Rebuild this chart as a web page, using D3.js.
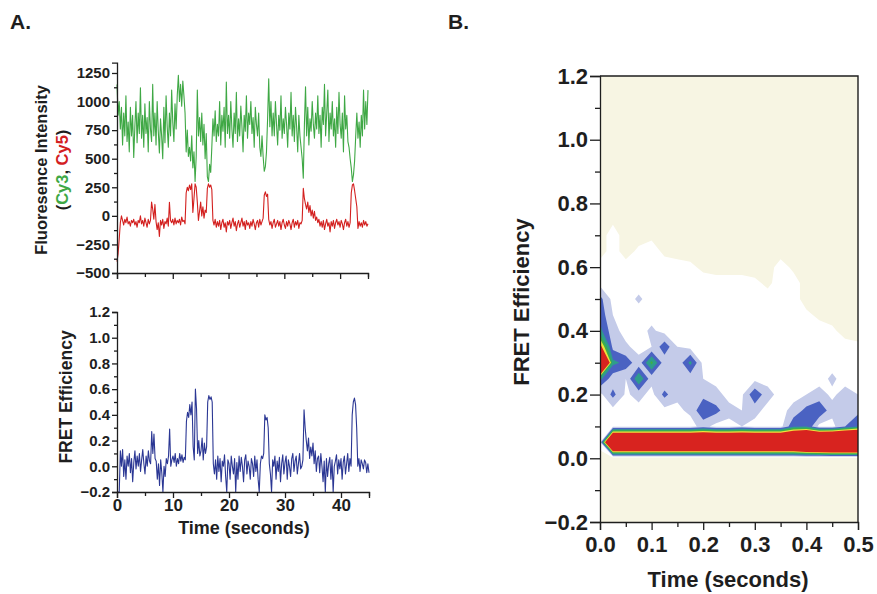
<!DOCTYPE html>
<html><head><meta charset="utf-8">
<script src="https://cdn.jsdelivr.net/npm/d3@7"></script>
<style>body{margin:0;background:#fff}</style>
</head><body><svg id="c" width="877" height="594"></svg>
<script>
// ---------- DATA ----------
const frameStep = 0.2; // seconds between samples
const cy3 = [
1150,880,1000,760,950, 620,900,700,1050,650, 820,560,950,700,880, 510,780,1000,640,900,
720,1120,680,880,600, 980,720,860,560,1000, 760,650,1150,700,900, 620,1000,740,550,850,
700,500,950,640,1050, 780,600,900,700,1100, 820,650,980,760,1050, 1230,1000,1150,960,1180,
1050,900,560,750,520, 600,480,700,420,560, 300,520,1100,700,860, 650,900,620,800,500,
720,340,300,450,380, 600,850,700,920,650, 800,700,1000,620,880, 740,950,600,1170,720,
880,680,1000,760,600, 900,720,1080,650,850, 700,960,780,560,880, 740,1050,680,900,800,
1000,720,860,600,950, 800,700,900,600,520, 700,520,390,430,560, 850,1200,780,1000,700,
900,700,1000,800,620, 880,750,1050,680,850, 720,950,800,600,900, 760,1080,700,880,650,
950,780,560,880,700, 600,500,330,800,1130, 700,950,620,850,740, 1000,800,680,900,760,
1050,720,880,600,950, 800,1150,700,900,1100, 650,900,760,1000,700, 850,600,950,720,1080,
800,680,900,560,1050, 760,880,650,600,500, 420,300,360,480,700, 900,680,820,600,880,
700,1100,760,1000,800, 1100];
const cy5 = [
-400,-330,-200,-60,0, -40,-80,-30,-60,-10, -70,-50,-90,-40,-60, -30,-80,-50,-100,-40,
-60,0,-70,-40,-90, -20,-60,-100,-30,-70, -40,120,60,-30,100, -50,-120,-60,-180,-40,
-80,-30,-110,-50,-70, -20,-90,118,-40,-60, -30,-80,-20,-70,-40, -60,-30,-80,-10,-50,
-40,-70,200,250,220, 270,230,280,30,150, 280,250,120,-40,40, 120,0,80,-20,50,
30,240,280,250,270, 230,-40,-80,-30,-100, -50,-90,-40,-120,-60, -30,-100,-60,-140,-50,
-80,-40,-110,-60,-20, -90,-50,-130,-70,-40, -100,-60,-20,-90,-50, -120,-40,-80,-60,-110,
-50,-90,-30,-70,-120, -60,-40,-100,-30,-80, -50,-20,180,210,170, 190,-30,-80,-50,-110,
-60,-30,-100,-70,-40, -90,-50,-120,-60,-30, -80,-110,-50,-90,-40, -70,-120,-60,-30,-100,
-50,-80,-40,-110,-60, -70,-40,240,150,100, 60,120,30,90,0, 50,-20,40,-40,-10,
-60,-30,-90,-50,-100, -40,-120,-70,-30,-90, -60,-140,-50,-90,-40, -110,-60,-30,-80,-50,
-100,-40,-70,-120,-60, -30,-90,-50,-100,-60, 200,270,280,220,150, 80,-110,-50,-90,-60,
-100,-40,-80,-50,-90, -70];
const fret = [
-0.2,-0.2,-0.2,0.12,0.0, 0.13,-0.08,0.05,-0.1,0.08, 0.0,0.1,-0.05,0.06,-0.12, 0.03,0.12,-0.02,0.08,0.0,
0.1,-0.04,0.05,0.13,0.02, -0.06,0.08,0.0,0.12,0.04, 0.02,0.27,0.1,0.25,0.06, 0.04,-0.1,0.02,-0.15,0.05,
-0.05,-0.2,0.0,-0.08,0.06, 0.02,0.08,0.29,0.0,0.05, 0.08,0.03,0.1,0.0,0.06, 0.02,0.1,0.04,0.09,0.03,
0.07,0.05,0.35,0.42,0.38, 0.48,0.4,0.5,0.15,0.05, 0.6,0.45,0.1,0.2,0.08, 0.12,0.22,0.05,0.18,0.1,
0.15,0.5,0.55,0.52,0.54, 0.5,0.02,-0.06,0.05,-0.1, 0.08,-0.04,0.06,-0.12,0.04, 0.0,0.09,-0.08,-0.2,0.05,
0.02,-0.1,0.08,0.0,-0.06, 0.06,-0.2,0.03,-0.1,0.08, -0.04,0.07,0.0,-0.12,0.05, 0.09,-0.06,0.04,0.0,-0.1,
0.06,0.02,-0.08,0.08,-0.04, 0.05,-0.1,-0.2,0.02,0.08, 0.06,0.1,0.4,0.36,0.38, 0.3,0.02,-0.06,-0.2,0.05,
0.0,0.08,-0.1,0.04,-0.04, 0.07,-0.12,0.02,0.09,-0.06, 0.03,0.08,-0.1,0.05,0.0, -0.08,0.06,0.1,-0.04,0.04,
0.08,-0.06,0.02,0.1,-0.02, 0.0,0.05,0.44,0.3,0.2, 0.12,0.22,0.06,0.15,0.08, 0.18,0.02,0.12,-0.04,0.06,
0.08,-0.05,0.1,0.0,-0.12, 0.04,-0.2,0.06,-0.08,0.02, 0.07,-0.1,0.05,-0.2,0.0, 0.04,0.09,-0.06,0.05,-0.02,
0.06,-0.1,0.03,0.08,-0.06, 0.02,0.1,-0.04,0.06,0.0, 0.4,0.5,0.53,0.48,0.3, 0.0,0.06,-0.04,0.05,0.02,
-0.02,0.05,0.03,-0.05,0.02, -0.05];

const intensityTicks = [-500,-250,0,250,500,750,1000,1250];
const intensityMinor = [-375,-125,125,375,625,875,1125];
const fretTicks = [-0.2,0.0,0.2,0.4,0.6,0.8,1.0,1.2];
const fretMinor = [-0.1,0.1,0.3,0.5,0.7,0.9,1.1];
const timeTicks = [0,10,20,30,40];
const timeMinor = [5,15,25,35,45];
const dwellTicks = [0,0.1,0.2,0.3,0.4,0.5];
const dwellMinor = [0.05,0.15,0.25,0.35,0.45];

// contour grid: columns = dwell time, rows = FRET (top to bottom)
const dwellTimes = [0,0.025,0.05,0.075,0.1,0.125,0.15,0.175,0.2,0.225,0.25,0.275,0.3,0.325,0.35,0.375,0.4,0.425,0.45,0.475,0.5];
const fretBins = [1.2,1.15,1.1,1.05,1.0,0.95,0.9,0.85,0.8,0.75,0.7,0.65,0.6,0.55,0.5,0.45,0.4,0.35,0.3,0.25,0.2,0.15,0.1,0.05,0.0,-0.05,-0.1,-0.15,-0.2];
const density = [
[0,0,0,0,0,0,0,0,0,0,0,0,0,0,0,0,0,0,0,0,0],
[0,0,0,0,0,0,0,0,0,0,0,0,0,0,0,0,0,0,0,0,0],
[0,0,0,0,0,0,0,0,0,0,0,0,0,0,0,0,0,0,0,0,0],
[0,0,0,0,0,0,0,0,0,0,0,0,0,0,0,0,0,0,0,0,0],
[0,0,0,0,0,0,0,0,0,0,0,0,0,0,0,0,0,0,0,0,0],
[0,0,0,0,0,0,0,0,0,0,0,0,0,0,0,0,0,0,0,0,0],
[0,0,0,0,0,0,0,0,0,0,0,0,0,0,0,0,0,0,0,0,0],
[0,0,0,0,0,0,0,0,0,0,0,0,0,0,0,0,0,0,0,0,0],
[0,0,0,0,0,0,0,0,0,0,0,0,0,0,0,0,0,0,0,0,0],
[0,1,0,0,0,0,0,0,0,0,0,0,0,0,0,0,0,0,0,0,0],
[0,4,0,0,1,0,0,0,0,0,0,0,0,0,0,0,0,0,0,0,0],
[0,4,0,3,4,1,0,0,0,0,0,0,0,0,0,0,0,0,0,0,0],
[4,4,4,4,4,4,4,3,1,0,0,0,0,0,4,1,0,0,0,0,0],
[4,4,4,4,4,4,4,4,4,4,4,4,3,1,4,4,0,0,0,0,0],
[9,4,4,5.4,4,4,4,4,4,4,4,4,4,4,4,4,0,0,0,0,0],
[10,5,4,4,4,4,4,4,4,4,4,4,4,4,4,4,3,1,0,0,0],
[12,6,4,4,5.5,4,4,4,4,4,4,4,4,4,4,4,4,4,3,0,0],
[22,7,5.5,4,5,10,5,4,4,4,4,4,4,4,4,4,4,4,4,4,3],
[45,12,10,6,15,6,5.5,12,4,4,4,4,4,4,4,4,4,4,4,4,4],
[12,6,5,14,6,5,5.5,6,5,4,4,4,4,4,4,4,4,4,5.5,4,4],
[4,9,4.5,6,4,9,5.5,6,7,6,4,4.5,10.5,6,4,4,5,6,4.5,6,5],
[4,4,4,4,4,4,4.5,5.5,10.8,9,6,5,6,4,4,6,9,10.8,6,7,7],
[4,4,4,4,4,4,4,4,6,4,4,5,4,4,4,10.5,11,4,4,8,11],
[4,45,45,45,45,45,45,45,45,45,45,45,45,45,45,45,50,52,54,55,55],
[0,0,0,0,0,0,0,0,0,0,0,0,0,0,0,0,0,0,0,0,0],
[0,0,0,0,0,0,0,0,0,0,0,0,0,0,0,0,0,0,0,0,0],
[0,0,0,0,0,0,0,0,0,0,0,0,0,0,0,0,0,0,0,0,0],
[0,0,0,0,0,0,0,0,0,0,0,0,0,0,0,0,0,0,0,0,0],
[0,0,0,0,0,0,0,0,0,0,0,0,0,0,0,0,0,0,0,0,0]];
const contourLevels = [2,5,8,11,14,17,20];
const contourColors = ["#ffffff","#c4cbe9","#4a62c2","#2f9d8b","#3dae4b","#efe23c","#d8231f"];
const contourBackground = "#f7f5e3";

// ---------- DRAW ----------
const FONT = '"Liberation Sans", Arial, Helvetica, sans-serif';
const INK = "#1e1e1e";
const svg = d3.select("#c");

function styleAxis(g, fs) {
  g.selectAll("path.domain").attr("stroke", INK).attr("stroke-width", 1.3);
  g.selectAll(".tick line").attr("stroke", INK).attr("stroke-width", 1.3);
  g.selectAll(".tick text").attr("font-family", FONT).attr("font-size", fs)
    .attr("font-weight", "bold").attr("fill", INK);
}
function label(x, y, txt, fs, opts = {}) {
  const t = svg.append("text").attr("font-family", FONT).attr("font-size", fs)
    .attr("font-weight", "bold").attr("fill", INK)
    .attr("text-anchor", opts.anchor || "middle");
  if (opts.rotate) {
    t.attr("transform", `translate(${x},${y}) rotate(-90)`).attr("dy", "0.35em");
  } else {
    t.attr("x", x).attr("y", y);
  }
  t.text(txt);
  return t;
}

// Panel letters
label(10, 29, "A.", 21, {anchor: "start"});
label(448, 29, "B.", 21, {anchor: "start"});

// ---- Panel A top: intensities ----
const xA = d3.scaleLinear().domain([0, 45]).range([117, 368]);
const yI = d3.scaleLinear().domain([-500, 1340]).range([273, 62.7]);
const times = cy3.map((_, i) => i * frameStep);

const lineI = d3.line().x((d, i) => xA(times[i])).y(d => yI(d));
svg.append("path").datum(cy3).attr("d", lineI).attr("fill", "none")
  .attr("stroke", "#3fa845").attr("stroke-width", 1.1).attr("stroke-linejoin", "round");
svg.append("path").datum(cy5).attr("d", lineI).attr("fill", "none")
  .attr("stroke", "#d3201f").attr("stroke-width", 1.1).attr("stroke-linejoin", "round");

let g = svg.append("g").attr("transform", "translate(117,0)")
  .call(d3.axisLeft(yI).tickValues(intensityTicks).tickSize(5).tickPadding(2).tickFormat(d3.format("d")));
styleAxis(g, 15);
g = svg.append("g").attr("transform", "translate(117,0)")
  .call(d3.axisLeft(yI).tickValues(intensityMinor).tickSize(3).tickFormat(""));
styleAxis(g, 15); g.select("path.domain").remove();
g = svg.append("g").attr("transform", "translate(0,273)")
  .call(d3.axisBottom(xA).tickValues(timeTicks).tickSize(6).tickFormat(""));
styleAxis(g, 15);
g = svg.append("g").attr("transform", "translate(0,273)")
  .call(d3.axisBottom(xA).tickValues(timeMinor).tickSize(4).tickFormat(""));
styleAxis(g, 15); g.select("path.domain").remove();

label(41, 170, "Fluoresence Intensity", 16.5, {rotate: true});
const cyLab = label(62, 170, "", 16.5, {rotate: true});
cyLab.append("tspan").text("(");
cyLab.append("tspan").attr("fill", "#3fa845").text("Cy3");
cyLab.append("tspan").text(", ");
cyLab.append("tspan").attr("fill", "#d3201f").text("Cy5");
cyLab.append("tspan").text(")");

// ---- Panel A bottom: FRET trace ----
const xB = d3.scaleLinear().domain([0, 45]).range([117, 369]);
const yF = d3.scaleLinear().domain([-0.2, 1.2]).range([492, 312]);
svg.append("path").datum(fret)
  .attr("d", d3.line().x((d, i) => xB(times[i])).y(d => yF(d)))
  .attr("fill", "none").attr("stroke", "#2b3794").attr("stroke-width", 1.1).attr("stroke-linejoin", "round");

g = svg.append("g").attr("transform", "translate(117,0)")
  .call(d3.axisLeft(yF).tickValues(fretTicks).tickSize(5).tickPadding(2).tickFormat(d3.format(".1f")));
styleAxis(g, 15);
g = svg.append("g").attr("transform", "translate(117,0)")
  .call(d3.axisLeft(yF).tickValues(fretMinor).tickSize(3).tickFormat(""));
styleAxis(g, 15); g.select("path.domain").remove();
g = svg.append("g").attr("transform", "translate(0,492)")
  .call(d3.axisBottom(xB).tickValues(timeTicks).tickSize(6).tickPadding(1).tickFormat(d3.format("d")));
styleAxis(g, 17);
g = svg.append("g").attr("transform", "translate(0,492)")
  .call(d3.axisBottom(xB).tickValues(timeMinor).tickSize(4).tickFormat(""));
styleAxis(g, 17); g.select("path.domain").remove();

label(66, 397, "FRET Efficiency", 17.5, {rotate: true});
label(244, 534, "Time (seconds)", 18);

// ---- Panel B: dwell-time contour ----
const xC = d3.scaleLinear().domain([0, 0.5]).range([600, 858]);
const yC = d3.scaleLinear().domain([-0.2, 1.2]).range([522, 76]);
svg.append("defs").append("clipPath").attr("id", "clipC")
  .append("rect").attr("x", xC(0)).attr("y", yC(1.2))
  .attr("width", xC(0.5) - xC(0)).attr("height", yC(-0.2) - yC(1.2));

const nx = dwellTimes.length, ny = fretBins.length;
const flat = [];
density.forEach(row => row.forEach(v => flat.push(v)));
const dt = dwellTimes[1] - dwellTimes[0];
const dE = fretBins[1] - fretBins[0];
const proj = d3.geoTransform({
  point: function (x, y) {
    this.stream.point(xC(dwellTimes[0] + (x - 0.5) * dt), yC(fretBins[0] + (y - 0.5) * dE));
  }
});
const gC = svg.append("g").attr("clip-path", "url(#clipC)");
gC.append("rect").attr("x", xC(0)).attr("y", yC(1.2))
  .attr("width", xC(0.5) - xC(0)).attr("height", yC(-0.2) - yC(1.2)).attr("fill", contourBackground);
const contours = d3.contours().size([nx, ny]).thresholds(contourLevels)(flat);
gC.selectAll("path.ct").data(contours).join("path").attr("class", "ct")
  .attr("d", d3.geoPath(proj))
  .attr("fill", (d, i) => contourColors[i]);

// frame
svg.append("path").attr("d", `M${xC(0)},${yC(1.2)}H${xC(0.5)}V${yC(-0.2)}`)
  .attr("fill", "none").attr("stroke", INK).attr("stroke-width", 1.4);
g = svg.append("g").attr("transform", `translate(${xC(0)},0)`)
  .call(d3.axisLeft(yC).tickValues(fretTicks).tickSize(10).tickPadding(2).tickFormat(d3.format(".1f")));
styleAxis(g, 22);
g = svg.append("g").attr("transform", `translate(${xC(0)},0)`)
  .call(d3.axisLeft(yC).tickValues(fretMinor).tickSize(5).tickFormat(""));
styleAxis(g, 22); g.select("path.domain").remove();
g = svg.append("g").attr("transform", `translate(0,${yC(-0.2)})`)
  .call(d3.axisBottom(xC).tickValues(dwellTicks).tickSize(8).tickPadding(6).tickFormat(d3.format(".1f")));
styleAxis(g, 22);
g = svg.append("g").attr("transform", `translate(0,${yC(-0.2)})`)
  .call(d3.axisBottom(xC).tickValues(dwellMinor).tickSize(5).tickFormat(""));
styleAxis(g, 22); g.select("path.domain").remove();

label(521, 302, "FRET Efficiency", 22, {rotate: true});
label(728, 587, "Time (seconds)", 22);
</script>
</body></html>
